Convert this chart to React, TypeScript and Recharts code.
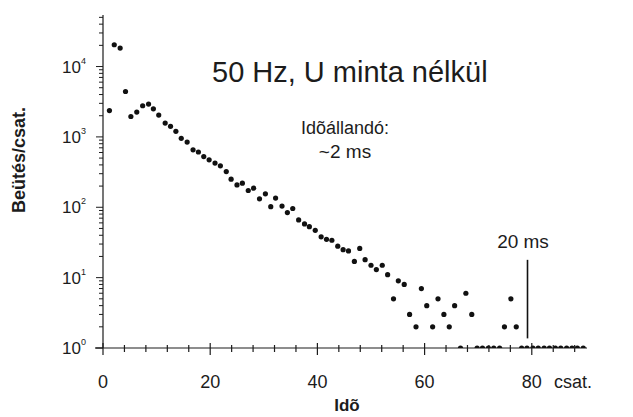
import { ScatterChart, Scatter, XAxis, YAxis, ReferenceLine } from "recharts";

// channel position of each dot
const channels = [
  1.2, 2.1, 3.2, 4.2, 5.2, 6.3, 7.4, 8.5, 9.4, 10.4, 11.6, 12.6, 13.6, 14.6, 15.7, 16.8,
  17.8, 18.8, 19.8, 20.9, 21.9, 23.0, 23.9, 25.0, 26.0, 27.1, 28.1, 29.2, 30.3, 31.3,
  32.2, 33.4, 34.4, 35.4, 36.5, 37.6, 38.5, 39.6, 40.7, 41.7, 42.7, 43.8, 44.8, 45.8,
  46.9, 47.9, 48.9, 50.0, 51.0, 52.1, 53.1, 54.2, 55.1, 56.2, 57.2, 58.4, 59.4, 60.4,
  61.5, 62.5, 63.6, 64.6, 65.6, 66.7, 67.7, 68.8, 69.8, 70.8, 71.9, 72.9, 74.0, 74.9,
  76.1, 77.1, 78.1, 79.1, 80.2, 81.2, 82.3, 83.3, 84.4, 85.4, 86.5, 87.5, 88.5, 89.6,
];

// counts per channel
const counts = [
  2370, 20400, 18300, 4420, 1950, 2250, 2770, 2930, 2510, 2040, 1570, 1415, 1200, 955,
  844, 656, 610, 525, 472, 424, 388, 322, 251, 208, 220, 173, 187, 132, 155, 102, 135,
  104, 84, 96, 66, 58, 53, 47, 38, 35, 34, 28, 25, 24, 17, 26, 18, 15, 13, 15, 11, 5, 9,
  8, 3, 2, 7, 4, 2, 5, 3, 2, 4, 1, 6, 3, 1, 1, 1, 1, 1, 2, 5, 2, 1, 1, 1, 1, 1, 1, 1, 1,
  1, 1, 1, 1,
];

const xTicks = [0, 4, 8, 12, 16, 20, 24, 28, 32, 36, 40, 44, 48, 52, 56, 60, 64, 68, 72, 76, 80, 84, 88];
const xLabels = [0, 20, 40, 60, 80];
const yDecades = [1, 10, 100, 1000, 10000];
const yMinor = [
  2, 3, 4, 5, 6, 7, 8, 9, 20, 30, 40, 50, 60, 70, 80, 90, 200, 300, 400, 500, 600, 700,
  800, 900, 2000, 3000, 4000, 5000, 6000, 7000, 8000, 9000, 20000, 30000, 40000, 50000,
];

const FONT = "'Liberation Sans', Arial, sans-serif";
const INK = "#1c1c1c";

const data = channels.map((x, i) => ({ x, y: counts[i] }));

function XTick({ x, y, payload }: any) {
  const major = xLabels.includes(payload.value);
  return (
    <g>
      <line x1={x} x2={x} y1={major ? y - 5 : y - 3} y2={major ? y + 7 : y + 4} stroke={INK} strokeWidth={1.2} />
      {major && (
        <text x={x} y={y + 40} textAnchor="middle" fontSize={18} fontFamily={FONT} fill={INK}>
          {payload.value}
        </text>
      )}
    </g>
  );
}

function YTick({ x, y, payload }: any) {
  const v = payload.value;
  const major = yDecades.includes(v);
  return (
    <g>
      <line x1={x - (major ? 7 : 4)} x2={x} y1={y} y2={y} stroke={INK} strokeWidth={1} />
      {major && (
        <text x={x - 17} y={y + 6} textAnchor="end" fontSize={17} fontFamily={FONT} fill={INK}>
          10
          <tspan dy={-9} fontSize={9}>
            {Math.round(Math.log10(v))}
          </tspan>
        </text>
      )}
    </g>
  );
}

const Dot = ({ cx, cy }: any) => <circle cx={cx} cy={cy} r={2.6} fill="#111" />;

export default function App() {
  return (
    <div style={{ position: "absolute", left: 0, top: 0, width: 633, height: 417, background: "#fff" }}>
      <ScatterChart width={633} height={417} margin={{ top: 15, right: 46, bottom: 0, left: 0 }}>
        <XAxis
          type="number"
          dataKey="x"
          domain={[0, 90.3]}
          ticks={xTicks}
          interval={0}
          tickSize={0}
          tickMargin={0}
          tick={<XTick />}
          height={69}
          stroke={INK}
          strokeWidth={1.2}
          allowDataOverflow
        />
        <YAxis
          type="number"
          dataKey="y"
          scale="log"
          domain={[1, 54000]}
          ticks={[...yDecades, ...yMinor]}
          interval={0}
          tickSize={0}
          tickMargin={0}
          tick={<YTick />}
          width={103}
          stroke={INK}
          strokeWidth={1.2}
          allowDataOverflow
        />
        <ReferenceLine
          segment={[
            { x: 79.2, y: 1.37 },
            { x: 79.2, y: 17.9 },
          ]}
          stroke="#111"
          strokeWidth={1.6}
        />
        <Scatter data={data} shape={<Dot />} isAnimationActive={false} />
      </ScatterChart>
      <svg width={633} height={417} style={{ position: "absolute", left: 0, top: 0, pointerEvents: "none" }}>
        <line x1={95} x2={103} y1={348} y2={348} stroke={INK} strokeWidth={1.2} />
        <text x={212} y={82} fontSize={29} fontFamily={FONT} fill={INK}>
          50 Hz, U minta nélkül
        </text>
        <text x={345} y={134} textAnchor="middle" fontSize={18} fontFamily={FONT} fill={INK}>
          Idõállandó:
        </text>
        <text x={345} y={158} textAnchor="middle" fontSize={19} fontFamily={FONT} fill={INK}>
          ~2 ms
        </text>
        <text x={523} y={248} textAnchor="middle" fontSize={19} fontFamily={FONT} fill={INK}>
          20 ms
        </text>
        <text x={554} y={388} fontSize={18} fontFamily={FONT} fill={INK}>
          csat.
        </text>
        <text x={347} y={411} textAnchor="middle" fontSize={17} fontWeight="bold" fontFamily={FONT} fill={INK}>
          Idõ
        </text>
        <text
          x={0}
          y={0}
          transform="translate(25 160) rotate(-90)"
          textAnchor="middle"
          fontSize={18}
          fontWeight="bold"
          fontFamily={FONT}
          fill={INK}
        >
          Beütés/csat.
        </text>
      </svg>
    </div>
  );
}
